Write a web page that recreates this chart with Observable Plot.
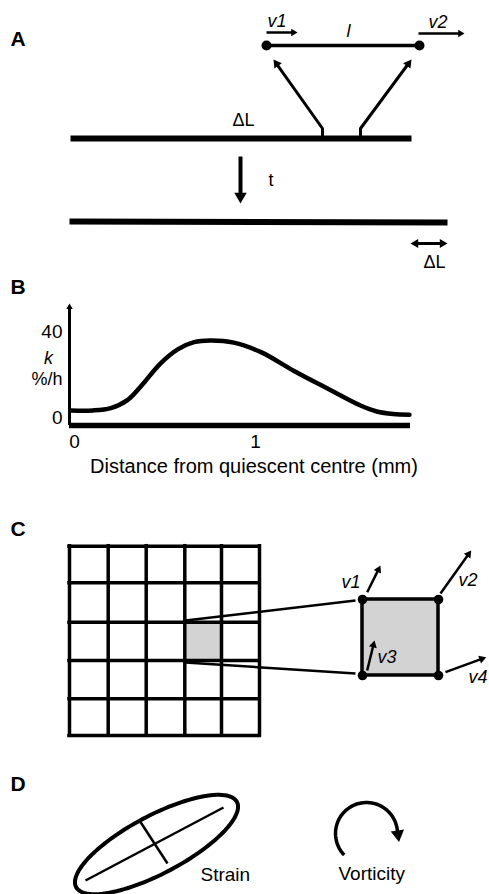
<!DOCTYPE html>
<html>
<head>
<meta charset="utf-8">
<script src="https://cdn.jsdelivr.net/npm/d3@7"></script>
<script src="https://cdn.jsdelivr.net/npm/@observablehq/plot@0.6"></script>
<style>
  html, body { margin: 0; padding: 0; background: #fff; }
  #root { position: relative; width: 489px; height: 894px; overflow: hidden; }
  #root svg { position: absolute; left: 0; }
</style>
</head>
<body>
<div id="root"></div>
<script>
const FONT = '"Liberation Sans", Arial, Helvetica, sans-serif';

// ---------------- Panel B: growth-rate profile (data units) ----------------
const distanceMm = [-0.02, 0.1, 0.2, 0.29, 0.38, 0.47, 0.57, 0.66, 0.75, 0.88, 1.03, 1.21, 1.4, 1.58, 1.67, 1.76, 1.85];
const growthRate = [3.3, 3.3, 4.4, 8, 16, 25, 32, 35.4, 36.2, 35.2, 30.7, 22, 13.5, 5.6, 2.8, 1.6, 1.3];
const xTicksB = [0, 1];
const yTicksB = [0, 40];
const xDomainB = [-0.028, 1.856];
const yDomainB = [-3.8, 53.6];
const xTitleB = "Distance from quiescent centre (mm)";
const kLabel = [{text: "k", y: 28}];
const unitLabel = [{text: "%/h", y: 18}];

// ---------------- Diagram panels (page pixel coordinates) ----------------
const panelLabels = [
  {t: "A", x: 10, y: 45}, {t: "B", x: 10, y: 293},
  {t: "C", x: 10, y: 535}, {t: "D", x: 10, y: 790}
];

// Panel A
const barsA = [{x1: 70, y1: 138, x2: 411, y2: 138}, {x1: 69, y1: 221, x2: 447, y2: 222}];
const segmentL = [{x1: 266, y1: 45, x2: 419, y2: 45}];
const segmentEnds = [{x: 266, y: 45}, {x: 419, y: 45}];
const velocityArrowsA = [[[266, 32], [297, 32]], [[418, 33], [464, 33]]];
const mappingArrowsA = [[[322, 136], [322, 128], [273, 59]], [[360, 136], [360, 128], [411, 59]]];
const timeArrow = [[[240, 156], [240, 203]]];
const extensionArrow = [[[429, 243], [410, 243]], [[428, 243], [447, 243]]];
const italicLabelsA = [{t: "v1", x: 267, y: 26}, {t: "l", x: 346, y: 36}, {t: "v2", x: 428, y: 27}];
const plainLabelsA = [{t: "ΔL", x: 232, y: 125}, {t: "t", x: 268, y: 185}, {t: "ΔL", x: 423, y: 267}];

// Panel C
const gridX = [69, 107.7, 145.7, 184.3, 221, 259];
const gridY = [545.7, 582.3, 621.7, 660, 698.3, 735];
const selectedCell = [{x1: 184.3, x2: 221, y1: 621.7, y2: 660}];
const zoomLines = [{x1: 185, y1: 620, x2: 355, y2: 600}, {x1: 185, y1: 662, x2: 355, y2: 673}];
const zoomCell = [{x1: 362, y1: 599, x2: 438, y2: 675}];
const zoomCorners = [{x: 362, y: 599}, {x: 438, y: 599}, {x: 362, y: 675}, {x: 438, y: 675}];
const velocityArrowsC = [
  [[366.7, 591.7], [380, 565]], [[440, 593], [470.7, 550]],
  [[366.7, 670], [374, 640]], [[445, 671.7], [485.7, 656.7]]
];
const labelsC = [{t: "v1", x: 341, y: 587}, {t: "v2", x: 458, y: 585}, {t: "v3", x: 377, y: 662}, {t: "v4", x: 468, y: 682}];

// Panel D
const strainEllipse = {cx: 156, cy: 844, rx: 91, ry: 29, angle: -27.9};
const strainAxes = [{x1: 85, y1: 880, x2: 223, y2: 807}, {x1: 139, y1: 820, x2: 167, y2: 863}];
const vorticityArc = {cx: 366, cy: 833, r: 31, start: 136, end: 352, tip: 13};
const labelsD = [{t: "Strain", x: 200, y: 880}, {t: "Vorticity", x: 338, y: 879}];

// ---------------- helpers ----------------
function arrowMarks(paths, {width, head}) {
  const tipOffset = head * 0.7776 * 2; // centroid-to-tip distance of d3 triangle
  const heads = [], pts = [];
  paths.forEach((p, i) => {
    const [x0, y0] = p[p.length - 2], [x1, y1] = p[p.length - 1];
    const L = Math.hypot(x1 - x0, y1 - y0), ux = (x1 - x0) / L, uy = (y1 - y0) / L;
    const c = {x: x1 - ux * tipOffset, y: y1 - uy * tipOffset, rotate: Math.atan2(ux, -uy) * 180 / Math.PI};
    heads.push(c);
    p.slice(0, -1).forEach(([x, y]) => pts.push({x, y, id: i}));
    pts.push({x: c.x, y: c.y, id: i});
  });
  return [
    Plot.line(pts, {x: "x", y: "y", z: "id", stroke: "black", strokeWidth: width, strokeLinejoin: "miter", strokeLinecap: "butt"}),
    Plot.dot(heads, {x: "x", y: "y", rotate: "rotate", symbol: "triangle", r: head, fill: "black", stroke: "none"})
  ];
}
function textMarks(data, opts) {
  return Plot.text(data, {x: "x", y: "y", text: "t", textAnchor: "start", lineAnchor: "bottom", fill: "black", fontFamily: FONT, ...opts});
}

// ellipse outline from its parameters
const e = strainEllipse, ea = e.angle * Math.PI / 180;
const ellipsePts = d3.range(0, 360, 3).map(d => {
  const t = d * Math.PI / 180, px = e.rx * Math.cos(t), py = e.ry * Math.sin(t);
  return {x: e.cx + px * Math.cos(ea) - py * Math.sin(ea), y: e.cy + px * Math.sin(ea) + py * Math.cos(ea)};
});
// vorticity arc from its parameters (screen angles, clockwise)
const va = vorticityArc;
const arcPath = d3.range(va.start, va.end + 0.01, 4).map(d => {
  const t = d * Math.PI / 180;
  return [va.cx + va.r * Math.cos(t), va.cy + va.r * Math.sin(t)];
});
{
  const t = va.end * Math.PI / 180, [ex, ey] = arcPath[arcPath.length - 1];
  arcPath.push([ex - Math.sin(t) * va.tip, ey + Math.cos(t) * va.tip]);
}

// ---------------- diagram layer ----------------
const diagram = Plot.plot({
  width: 489, height: 894, margin: 0,
  x: {domain: [0, 489], range: [0, 489]},
  y: {domain: [0, 894], range: [0, 894]},
  axis: null,
  style: {background: "white", fontFamily: FONT},
  marks: [
    // panel letters
    textMarks(panelLabels, {fontWeight: "bold", fontSize: 21}),
    // Panel A
    Plot.link(barsA, {x1: "x1", y1: "y1", x2: "x2", y2: "y2", stroke: "black", strokeWidth: 6}),
    Plot.link(segmentL, {x1: "x1", y1: "y1", x2: "x2", y2: "y2", stroke: "black", strokeWidth: 3.5}),
    Plot.dot(segmentEnds, {x: "x", y: "y", r: 5, fill: "black", stroke: "none"}),
    ...arrowMarks(velocityArrowsA, {width: 2.5, head: 2.7}),
    ...arrowMarks(mappingArrowsA, {width: 3, head: 3.4}),
    ...arrowMarks(timeArrow, {width: 4, head: 4.6}),
    ...arrowMarks(extensionArrow, {width: 3, head: 3.3}),
    textMarks(italicLabelsA, {fontStyle: "italic", fontSize: 18}),
    textMarks(plainLabelsA, {fontSize: 18}),
    // Panel C
    Plot.rect(selectedCell, {x1: "x1", x2: "x2", y1: "y1", y2: "y2", fill: "#d3d3d3"}),
    Plot.ruleX(gridX, {y1: gridY[0], y2: gridY[gridY.length - 1], stroke: "black", strokeWidth: 3.5, strokeLinecap: "square"}),
    Plot.ruleY(gridY, {x1: gridX[0], x2: gridX[gridX.length - 1], stroke: "black", strokeWidth: 3.5, strokeLinecap: "square"}),
    Plot.link(zoomLines, {x1: "x1", y1: "y1", x2: "x2", y2: "y2", stroke: "black", strokeWidth: 2.5}),
    Plot.rect(zoomCell, {x1: "x1", x2: "x2", y1: "y1", y2: "y2", fill: "#d3d3d3", stroke: "black", strokeWidth: 3.5}),
    Plot.dot(zoomCorners, {x: "x", y: "y", r: 4.8, fill: "black", stroke: "none"}),
    ...arrowMarks(velocityArrowsC, {width: 2.5, head: 3}),
    textMarks(labelsC, {fontStyle: "italic", fontSize: 18}),
    // Panel D
    Plot.line(ellipsePts, {x: "x", y: "y", curve: "linear-closed", stroke: "black", strokeWidth: 4}),
    Plot.link(strainAxes, {x1: "x1", y1: "y1", x2: "x2", y2: "y2", stroke: "black", strokeWidth: 2.5}),
    ...arrowMarks([arcPath], {width: 3.5, head: 5}),
    textMarks(labelsD, {fontSize: 19})
  ]
});
diagram.style.top = "0px";

// ---------------- Panel B chart ----------------
const profile = distanceMm.map((d, i) => ({distance: d, k: growthRate[i]}));
const chartB = Plot.plot({
  width: 489, height: 200,
  marginLeft: 69, marginRight: 79, marginTop: 18, marginBottom: 60,
  x: {domain: xDomainB, ticks: xTicksB, tickFormat: d => String(d), tickSize: 0, tickPadding: 9, label: null},
  y: {domain: yDomainB, ticks: yTicksB, tickFormat: d => String(d), tickSize: 0, tickPadding: 7, label: null},
  style: {background: "transparent", fontFamily: FONT, fontSize: "19px", color: "black"},
  marks: [
    Plot.ruleX([xDomainB[0]], {stroke: "black", strokeWidth: 3, insetTop: 4}),
    Plot.dot([0], {frameAnchor: "top-left", symbol: "triangle", r: 2.4, dy: 2.4 * 0.7776 * 2, fill: "black", stroke: "none"}),
    Plot.ruleY([yDomainB[0]], {stroke: "black", strokeWidth: 5.5}),
    Plot.line(profile, {x: "distance", y: "k", curve: "catmull-rom", stroke: "black", strokeWidth: 4.5}),
    Plot.text(kLabel, {frameAnchor: "left", y: "y", text: "text", dx: -21, textAnchor: "middle", lineAnchor: "middle", fontStyle: "italic", fontSize: 18, fill: "black"}),
    Plot.text(unitLabel, {frameAnchor: "left", y: "y", text: "text", dx: -7, textAnchor: "end", lineAnchor: "middle", fontSize: 18, fill: "black"}),
    Plot.text([xTitleB], {frameAnchor: "bottom", dx: 14, dy: 47, lineAnchor: "bottom", fontSize: 20, fill: "black"})
  ]
});
chartB.style.top = "285px";

const root = document.getElementById("root");
root.append(diagram, chartB);
</script>
</body>
</html>
